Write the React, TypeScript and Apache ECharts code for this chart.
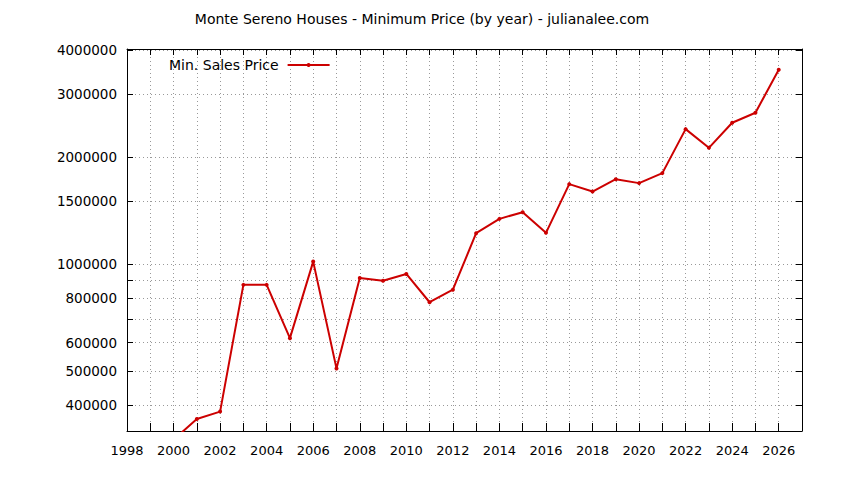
import { useEffect, useRef } from 'react';
import * as echarts from 'echarts';

const years = [
  2000, 2001, 2002, 2003, 2004, 2005, 2006, 2007, 2008, 2009, 2010, 2011, 2012, 2013,
  2014, 2015, 2016, 2017, 2018, 2019, 2020, 2021, 2022, 2023, 2024, 2025, 2026,
];
const minPrices = [
  320000, 366000, 384000, 873000, 873000, 618000, 1015000, 508000, 913000, 897000,
  937000, 780000, 846000, 1220000, 1339000, 1398000, 1223000, 1677000, 1598000,
  1732000, 1688000, 1801000, 2395000, 2122000, 2496000, 2663000, 3520000,
];
const yLabelValues = [400000, 500000, 600000, 800000, 1000000, 1500000, 2000000, 3000000, 4000000];
const yTickValues = [400000, 500000, 600000, 700000, 800000, 900000, 1000000, 1500000, 2000000, 3000000, 4000000];

const FONT = 'DejaVu Sans';

const App = () => {
  const chartRef = useRef<HTMLDivElement>(null);

  useEffect(() => {
    if (!chartRef.current) return;
    const chart = echarts.init(chartRef.current, undefined, { renderer: 'svg' });

    const gridLine = { show: true, lineStyle: { color: '#999', width: 1, type: [1, 3] } };
    const axisLine = { show: true, lineStyle: { color: '#000', width: 1 } };

    const xCommon = {
      type: 'value',
      min: 1998,
      max: 2027,
      interval: 1,
      axisLine,
    };
    const yCommon = {
      type: 'log',
      logBase: 10,
      min: 338600,
      max: 4026000,
      axisLine,
    };

    chart.setOption({
      animation: false,
      backgroundColor: '#fff',
      textStyle: { fontFamily: FONT },
      title: {
        text: 'Monte Sereno Houses - Minimum Price (by year) - julianalee.com',
        left: 'center',
        top: 7,
        textStyle: { fontFamily: FONT, fontSize: 14, fontWeight: 'normal', color: '#000' },
      },
      legend: {
        left: 164,
        top: 53,
        align: 'right',
        itemWidth: 42,
        itemHeight: 5,
        textStyle: { fontFamily: FONT, fontSize: 14, color: '#000', padding: [0, 4, 0, 0] },
        data: ['Min. Sales Price'],
      },
      grid: { left: 127, right: 42, top: 49, bottom: 49 },
      xAxis: [
        {
          ...xCommon,
          position: 'bottom',
          axisTick: { show: true, inside: true, length: 8, lineStyle: { color: '#000' } },
          axisLabel: {
            fontFamily: FONT,
            fontSize: 13,
            color: '#000',
            margin: 13,
            formatter: (v: number) => (v % 2 === 0 && v <= 2026 ? String(v) : ''),
          },
          splitLine: gridLine,
        },
        {
          ...xCommon,
          position: 'top',
          axisTick: { show: true, inside: true, length: 6, lineStyle: { color: '#000' } },
          axisLabel: { show: false },
          splitLine: { show: false },
        },
      ],
      yAxis: [
        {
          ...yCommon,
          position: 'left',
          axisTick: {
            show: true,
            inside: true,
            length: 6,
            customValues: yTickValues,
            lineStyle: { color: '#000' },
          },
          axisLabel: {
            fontFamily: FONT,
            fontSize: 13.5,
            color: '#000',
            margin: 10,
            customValues: yLabelValues,
            formatter: (v: number) => String(Math.round(v)),
          },
          splitLine: gridLine,
          minorSplitLine: { show: false },
        },
        {
          ...yCommon,
          position: 'right',
          axisTick: {
            show: true,
            inside: true,
            length: 6,
            customValues: yTickValues,
            lineStyle: { color: '#000' },
          },
          axisLabel: { show: false },
          splitLine: { show: false },
        },
      ],
      series: [
        {
          name: 'Min. Sales Price',
          type: 'line',
          xAxisIndex: 0,
          yAxisIndex: 0,
          data: years.map((y, i) => [y, minPrices[i]]),
          clip: true,
          symbol: 'circle',
          symbolSize: 4,
          showSymbol: true,
          lineStyle: { color: '#cc0000', width: 2 },
          itemStyle: { color: '#cc0000' },
        },
      ],
    });

    return () => {
      chart.dispose();
    };
  }, []);

  return (
    <div
      ref={chartRef}
      style={{ position: 'fixed', left: 0, top: 0, width: '844px', height: '480px' }}
    />
  );
};

export default App;
